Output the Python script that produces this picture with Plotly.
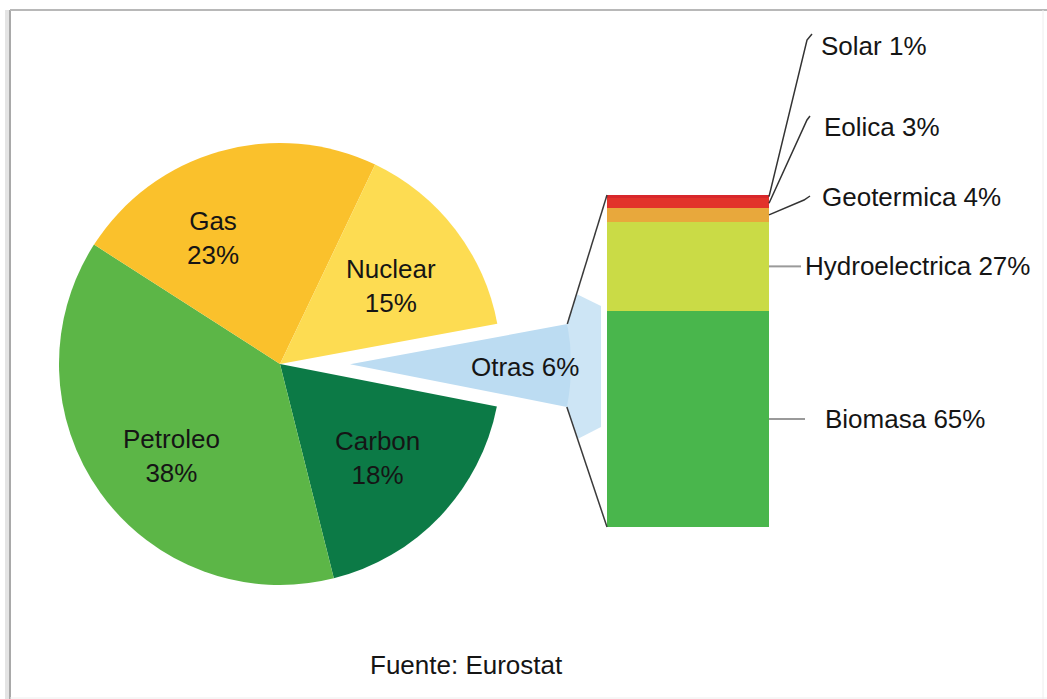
import math
import plotly.graph_objects as go

W, H = 1047, 699

# Primary energy consumption by source (%)
fuentes = ["Otras", "Carbon", "Petroleo", "Gas", "Nuclear"]
cuota = [6, 18, 38, 23, 15]

# Breakdown of the "Otras" share (%), stacked bottom to top
renovables = ["Biomasa", "Hydroelectrica", "Geotermica", "Eolica", "Solar"]
cuota_renov = [65, 27, 4, 3, 1]

nota_fuente = "Fuente: Eurostat"

# ---- styling -------------------------------------------------------------
FONT = "Liberation Sans, Arial, sans-serif"
TXT = "#151515"
FS = 26

colores_pie = {
    "Otras": "#BCDCF2",
    "Carbon": "#0C7A46",
    "Petroleo": "#5CB647",
    "Gas": "#FAC12C",
    "Nuclear": "#FDDC52",
}
colores_bar = {
    "Biomasa": "#49B64C",
    "Hydroelectrica": "#CADB46",
    "Geotermica": "#E8A83C",
    "Eolica": "#E2332B",
    "Solar": "#D8272B",
}

# ---- geometry (pixels, origin top-left) -----------------------------------
PIE_CX, PIE_CY, PIE_R = 280, 364, 221
ROT = 79.5          # clockwise offset of the first slice from 12 o'clock
PULL_PX = 70        # how far the "Otras" wedge is pulled out

BAR_X0, BAR_X1 = 607, 769
BAR_TOP, BAR_BOT = 195, 527

# pie-label centres
PIE_LABEL_AT = {
    "Gas": (213, 238),
    "Nuclear": (391, 286),
    "Petroleo": (172, 456),
    "Carbon": (377, 458),
    "Otras": (525, 367),
}
# leader-line elbows and label anchors for the stacked bar
LEADER_PTS = {
    "Solar": [(807, 40), (812, 34)],
    "Eolica": [(807, 120), (810, 116)],
    "Geotermica": [(804, 200), (810, 196)],
    "Hydroelectrica": [(801, None)],
    "Biomasa": [(805, None)],
}
BAR_LABEL_AT = {
    "Solar": (819, 46),
    "Eolica": (822, 127),
    "Geotermica": (820, 197),
    "Hydroelectrica": (803, None),
    "Biomasa": (823, None),
}

total_renov = sum(cuota_renov)
k = total_renov / (BAR_BOT - BAR_TOP)          # percent per pixel on bar axis


def yv(py):
    """pixel row -> bar-axis value"""
    return (BAR_BOT - py) * k


def py_of(v):
    return BAR_BOT - v / k


def pdom(cx, cy, r):
    return dict(x=[(cx - r) / W, (cx + r) / W], y=[1 - (cy + r) / H, 1 - (cy - r) / H])


fig = go.Figure()

# ---- main pie (the "Otras" slot left empty) -------------------------------
main_cols = ["rgba(0,0,0,0)" if f == "Otras" else colores_pie[f] for f in fuentes]
fig.add_trace(go.Pie(
    labels=fuentes, values=cuota, sort=False, direction="clockwise", rotation=ROT,
    marker=dict(colors=main_cols, line=dict(width=0)),
    textinfo="none", hoverinfo="skip", domain=pdom(PIE_CX, PIE_CY, PIE_R),
))

# ---- exploded "Otras" wedge ------------------------------------------------
total = sum(cuota)
start_deg = 90 - ROT
otras_span = 360 * cuota[fuentes.index("Otras")] / total
mid = math.radians(start_deg - otras_span / 2)
ocx = PIE_CX + PULL_PX * math.cos(mid)
ocy = PIE_CY - PULL_PX * math.sin(mid)
otras_cols = [colores_pie[f] if f == "Otras" else "rgba(0,0,0,0)" for f in fuentes]
fig.add_trace(go.Pie(
    labels=fuentes, values=cuota, sort=False, direction="clockwise", rotation=ROT,
    marker=dict(colors=otras_cols, line=dict(width=0)),
    textinfo="none", hoverinfo="skip", domain=pdom(ocx, ocy, PIE_R),
))

# wedge outer corners
a0 = math.radians(start_deg)
a1 = math.radians(start_deg - otras_span)
c_top = (ocx + PIE_R * math.cos(a0), ocy - PIE_R * math.sin(a0))
c_bot = (ocx + PIE_R * math.cos(a1), ocy - PIE_R * math.sin(a1))

# soft blue band between the wedge and the bar
def on_line(p, q, py):
    t = (py - p[1]) / (q[1] - p[1])
    return p[0] + t * (q[0] - p[0])

up_y, lo_y = c_top[1] - 30, c_bot[1] + 32
band_x = [c_top[0], on_line(c_top, (BAR_X0, BAR_TOP), up_y), BAR_X0 - 6, BAR_X0 - 6,
          on_line(c_bot, (BAR_X0, BAR_BOT), lo_y), c_bot[0]]
band_y = [c_top[1], up_y, up_y + 12, lo_y - 12, lo_y, c_bot[1]]
fig.add_trace(go.Scatter(
    x=band_x, y=[yv(v) for v in band_y], mode="lines", fill="toself",
    fillcolor="rgba(188,220,242,0.75)", line=dict(width=0), hoverinfo="skip",
))

# connector lines wedge -> bar
for corner, bar_val in ((c_top, total_renov), (c_bot, 0)):
    fig.add_trace(go.Scatter(
        x=[corner[0], BAR_X0], y=[yv(corner[1]), bar_val], mode="lines",
        line=dict(color="#3a3a3a", width=1.5), hoverinfo="skip",
    ))

# ---- stacked bar -----------------------------------------------------------
for nombre, val in zip(renovables, cuota_renov):
    fig.add_trace(go.Bar(
        x=[(BAR_X0 + BAR_X1) / 2], y=[val], width=[BAR_X1 - BAR_X0],
        marker=dict(color=colores_bar[nombre], line=dict(width=0)),
        hoverinfo="skip",
    ))

# leader lines + labels
annotations = []
base = 0
for nombre, val in zip(renovables, cuota_renov):
    mid_v = base + val / 2
    base += val
    xs, ys = [BAR_X1], [mid_v]
    for (px, py) in LEADER_PTS[nombre]:
        xs.append(px)
        ys.append(mid_v if py is None else yv(py))
    dark = LEADER_PTS[nombre][0][1] is not None
    fig.add_trace(go.Scatter(
        x=xs, y=ys, mode="lines", hoverinfo="skip",
        line=dict(color="#333333" if dark else "#9a9a9a", width=1.5 if dark else 2),
    ))
    lx, ly = BAR_LABEL_AT[nombre]
    annotations.append(dict(
        x=lx / W, y=(1 - ly / H) if ly is not None else 1 - py_of(mid_v) / H,
        xref="paper", yref="paper", xanchor="left", yanchor="middle",
        text=f"{nombre} {val}%", showarrow=False,
        font=dict(family=FONT, size=FS, color=TXT),
    ))

# pie labels
for f, v in zip(fuentes, cuota):
    lx, ly = PIE_LABEL_AT[f]
    txt = f"{f} {v}%" if f == "Otras" else f"{f}<br>{v}%"
    annotations.append(dict(
        x=lx / W, y=1 - ly / H, xref="paper", yref="paper",
        xanchor="center", yanchor="middle", align="center",
        text=txt, showarrow=False, font=dict(family=FONT, size=FS, color=TXT),
    ))

annotations.append(dict(
    x=466 / W, y=1 - 665 / H, xref="paper", yref="paper",
    xanchor="center", yanchor="middle", text=nota_fuente, showarrow=False,
    font=dict(family=FONT, size=FS, color=TXT),
))

# frame
shapes = [
    dict(type="line", xref="paper", yref="paper", x0=7 / W, x1=7 / W, y0=0, y1=1 - 10 / H,
         line=dict(color="#e4e4e4", width=4)),
    dict(type="line", xref="paper", yref="paper", x0=10 / W, x1=10 / W, y0=0, y1=1 - 10 / H,
         line=dict(color="#a9a9a9", width=2)),
    dict(type="line", xref="paper", yref="paper", x0=10 / W, x1=1, y0=1 - 10 / H, y1=1 - 10 / H,
         line=dict(color="#b8b8b8", width=2)),
    dict(type="line", xref="paper", yref="paper", x0=1043 / W, x1=1043 / W, y0=0, y1=1 - 10 / H,
         line=dict(color="#eeeeee", width=1)),
    dict(type="line", xref="paper", yref="paper", x0=10 / W, x1=1, y0=1 - 698 / H, y1=1 - 698 / H,
         line=dict(color="#eeeeee", width=1)),
]

fig.update_layout(
    width=W, height=H, margin=dict(l=0, r=0, t=0, b=0),
    paper_bgcolor="white", plot_bgcolor="rgba(0,0,0,0)",
    showlegend=False, barmode="stack", bargap=0,
    xaxis=dict(range=[0, W], domain=[0, 1], visible=False, fixedrange=True),
    yaxis=dict(range=[yv(H), yv(0)], domain=[0, 1], visible=False, fixedrange=True),
    annotations=annotations, shapes=shapes,
)

fig.write_html("out.html")
